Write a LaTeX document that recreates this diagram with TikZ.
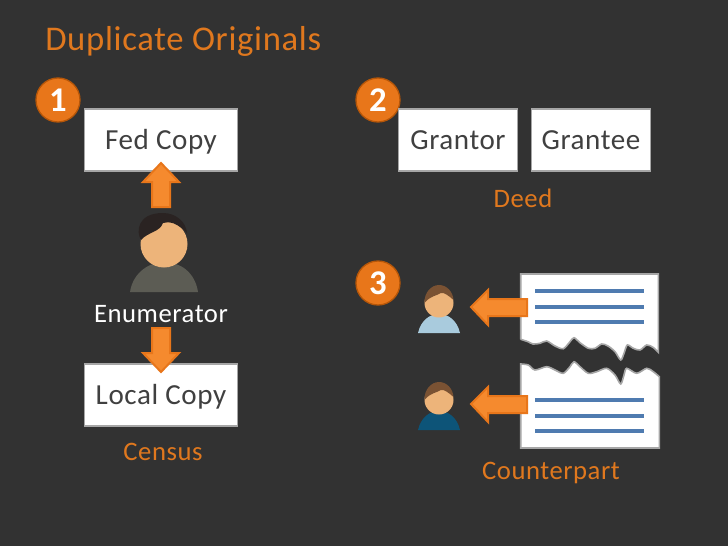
\documentclass[tikz,border=0pt]{standalone}
\usepackage{fontspec}
\setmainfont{Carlito}
\definecolor{bgc}{HTML}{323232}
\definecolor{org}{HTML}{E36C0A}
\definecolor{orgtxt}{HTML}{E0781E}
\definecolor{orgb}{HTML}{F58A2E}
\definecolor{orge}{HTML}{E8761A}
\definecolor{skin}{HTML}{EDB47A}
\definecolor{hairb}{HTML}{7A5233}
\definecolor{haird}{HTML}{2A2322}
\definecolor{bodyg}{HTML}{5C5C54}
\definecolor{linec}{HTML}{4F7BB0}
\definecolor{txtd}{HTML}{404040}
\definecolor{edgeg}{HTML}{A6A6A6}
\tikzset{
 box/.style={draw=edgeg,line width=1pt,fill=white,text=txtd,font=\fontsize{21.8}{24}\selectfont,inner sep=0pt,anchor=center,text height=14pt,text depth=0pt},
 otext/.style={text=orgtxt,font=\fontsize{20}{24}\selectfont,inner sep=0pt},
 wtext/.style={text=white,font=\fontsize{20}{24}\selectfont,inner sep=0pt},
 badge/.style={circle,fill=orge,draw=org!80!black,line width=1pt,minimum size=33pt,inner sep=0pt,text=white,font=\bfseries\fontsize{26}{28}\selectfont},
 arr/.style={fill=orgb,draw=orge,line width=1.5pt,line join=miter},
 doc/.style={fill=white,draw=edgeg,line width=1.2pt},
 rule/.style={draw=linec,line width=2.4pt},
}
\begin{document}
\begin{tikzpicture}[x=0.75pt,y=-0.75pt]
\useasboundingbox (0,0) rectangle (728,546);
\fill[bgc] (0,0) rectangle (728,546);
\node[otext,anchor=west,font=\fontsize{26}{28}\selectfont] (title) at (45,41) {\addfontfeatures{LetterSpace=2}Duplicate Originals};
\node[badge] (b1) at (58,100) {1};
\node[badge] (b2) at (378,100) {2};
\node[badge] (b3) at (378,283) {3};
% section 1
\node[box,minimum width=115pt,minimum height=46.5pt] (fed) at (161,140) {\addfontfeatures{LetterSpace=2}Fed Copy};
\node[box,minimum width=115pt,minimum height=46.5pt] (local) at (161,395) {\addfontfeatures{LetterSpace=2}Local Copy};
\draw[arr] (161,163) -- (179,182) -- (170,182) -- (170,207) -- (152,207) -- (152,182) -- (143,182) -- cycle;
\draw[arr] (161,372) -- (179,353) -- (170,353) -- (170,328) -- (152,328) -- (152,353) -- (143,353) -- cycle;
% enumerator
\fill[bodyg] (130,292) .. controls (133,272) and (150,262) .. (164,262) .. controls (180,262) and (195,272) .. (198,292) -- cycle;
\fill[skin] (164,244) circle (23.5);
\fill[haird] (141,240) .. controls (136,232) and (137,213) .. (163,213) .. controls (176,213) and (186,222) .. (187,233) .. controls (184,229) and (180,227) .. (177,225) .. controls (172,222) and (168,222) .. (163,223) .. controls (160,232) and (148,232) .. (141,240) -- cycle;
\node[wtext] (enum) at (161,314) {\addfontfeatures{LetterSpace=2}Enumerator};
\node[otext] (census) at (163,452) {\addfontfeatures{LetterSpace=2}Census};
% section 2
\node[box,minimum width=89.5pt,minimum height=46.5pt] (grantor) at (458,140) {\addfontfeatures{LetterSpace=2}Grantor};
\node[box,minimum width=89.5pt,minimum height=46.5pt] (grantee) at (591,140) {\addfontfeatures{LetterSpace=2}Grantee};
\node[otext] (deed) at (523,198) {\addfontfeatures{LetterSpace=2}Deed};
% section 3
\draw[doc] (520.7,339.3) -- (520.7,274) -- (658.3,274) -- (658.3,352.3) -- plot[smooth,tension=0.5] coordinates {(658.3,352.3) (653,347.3) (646.7,345) (640,350) (633.3,348.3) (627.3,345) (624,353.3) (620.7,360) (615,351.7) (608,346) (601.7,344) (595,348.3) (588.3,348.3) (580,342.7) (574,337.7) (570,341.7) (563.3,348.7) (555,346) (546.7,341) (540,343.3) (533,344) (528,341.7) (520.7,339.3)};
\draw[doc] (520.7,364) -- plot[smooth,tension=0.5] coordinates {(520.7,364) (528.3,365) (535,370) (546.7,366.7) (555,370) (563.3,373.3) (570,366.7) (574,361.7) (580,366.7) (588.3,373.3) (596.7,371.7) (606.7,368.3) (615,375) (620.7,384) (624,375) (626.7,368.3) (636.7,373.3) (646.7,368.3) (653.3,371.7) (659.3,376.7)} -- (659.3,448) -- (520.7,448) -- cycle;
\foreach \y in {291,307,322,400,416,431} \draw[rule] (535,\y) -- (644,\y);
\draw[arr] (471,307) -- (488,290) -- (488,299) -- (527,299) -- (527,316) -- (488,316) -- (488,325) -- cycle;
\draw[arr] (471,404) -- (488,387) -- (488,396) -- (527,396) -- (527,413) -- (488,413) -- (488,422) -- cycle;
% people
\foreach \dy/\c in {0/A9CBDD,97/0D5478}{
 \definecolor{body}{HTML}{\c}
 \fill[body] (418,333+\dy) .. controls (421,320+\dy) and (430,314+\dy) .. (439,314+\dy) .. controls (448,314+\dy) and (457,320+\dy) .. (460,333+\dy) -- cycle;
 \fill[skin] (439,303+\dy) ellipse (14.5 and 14.5);
 \fill[hairb] (424.5,303+\dy) .. controls (424,293+\dy) and (431,285+\dy) .. (439,285+\dy) .. controls (447,285+\dy) and (453,292+\dy) .. (453.5,300+\dy) .. controls (449,296+\dy) and (444,292+\dy) .. (441,293+\dy) .. controls (436,296+\dy) and (430,296+\dy) .. (424.5,303+\dy) -- cycle;
}
\node[otext] (cp) at (551,472.5) {\addfontfeatures{LetterSpace=2}Counterpart};
\end{tikzpicture}
\end{document}
